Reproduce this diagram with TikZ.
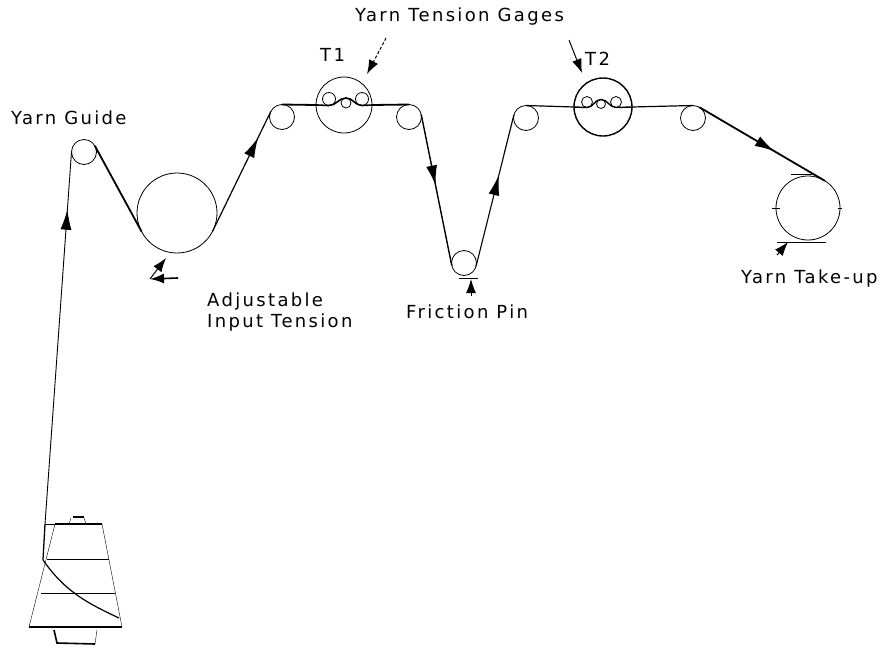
\documentclass[tikz,border=0pt]{standalone}
\usepackage{fontspec}
\setmainfont{DejaVu Sans}[LetterSpace=13]
\usetikzlibrary{arrows.meta,decorations.markings}
\begin{document}
\begin{tikzpicture}[x=1pt,y=-1pt,
        roller/.style={draw,circle,inner sep=0pt,outer sep=0pt,line width=0.8pt,minimum size=#1},
        caption/.style={inner sep=0pt,font=\fontsize{18}{21}\selectfont,align=left},
        yarn/.style={line width=#1},
        yarn/.default=0.9pt,
        yarnarrow/.style={postaction={decorate},decoration={markings,mark=at position #1 with {\arrow{Latex[length=20pt,width=11pt]}}}},
        leader/.style={line width=1pt,-{Latex[length=14pt,width=10pt]}}]
        \useasboundingbox ( 0, 0 ) rectangle ( 891, 648 );

        % ролики
        \node [roller=25pt] (guide) at ( 84, 152 ) {};
        \node [roller=80pt] (input) at ( 177, 213 ) {};
        \node [roller=25pt] (rollerA) at ( 282, 117 ) {};
        \node [roller=25pt] (rollerB) at ( 409, 117 ) {};
        \node [roller=25pt] (pin) at ( 464, 263 ) {};
        \node [roller=25pt] (rollerC) at ( 526, 118 ) {};
        \node [roller=25pt] (rollerD) at ( 693, 118 ) {};
        \node [roller=64pt] (takeup) at ( 808, 208 ) {};

        % датчики T1 и T2
        \node [roller=56pt] (gageA) at ( 344, 105 ) {};
        \node [roller=13pt] (gageAa) at ( 329, 99 ) {};
        \node [roller=10pt] (gageAb) at ( 346, 103 ) {};
        \node [roller=13pt] (gageAc) at ( 362, 99 ) {};
        \node [roller=58pt,line width=1.4pt] (gageB) at ( 603, 107 ) {};
        \node [roller=11pt] (gageBa) at ( 587, 102 ) {};
        \node [roller=9pt] (gageBb) at ( 601, 104 ) {};
        \node [roller=11pt] (gageBc) at ( 616, 102 ) {};

        % катушка
        \coordinate (coneTL) at ( 55, 524 );
        \coordinate (coneTR) at ( 102, 524 );
        \coordinate (coneBL) at ( 29, 627 );
        \coordinate (coneBR) at ( 122, 627 );
        \coordinate (feed) at ( 45, 524 );
        \coordinate (wind) at ( 43, 560 );
        \draw [line width=1.4pt] (coneTL) -- (coneTR);
        \draw [line width=1.4pt] (coneBL) -- (coneBR);
        \draw (coneTL) -- (coneBL);
        \draw (coneTR) -- (coneBR);
        \draw ( 47, 559 ) -- ( 109, 559 );
        \draw ( 41, 593 ) -- ( 115, 593 );
        \draw ( 69, 524 ) -- ( 71, 518 ) ( 84, 518 ) -- ( 86, 524 );
        \draw [line width=1.2pt] ( 73, 517 ) -- ( 84, 517 );
        \draw [line width=1.6pt] ( 54, 630 ) -- ( 57, 643 ) -- ( 95, 644 );
        \draw ( 95, 644 ) -- ( 97, 630 );

        % нить
        \draw [yarn] (feed) -- (coneTL);
        \draw [yarn=1.3pt] (feed) -- (wind);
        \draw [yarn=1.2pt] (wind) to [ out = -55, in = 155 ] ( 119, 618 );
        \draw [yarn,yarnarrow=0.845] (feed) -- (guide.180);
        \draw [yarn=1.8pt] (guide.30) -- (input.208);
        \draw [yarn=1.2pt,yarnarrow=0.78] (input.-27) -- (rollerA.153);
        \draw [yarn=1.8pt] (rollerA.north) -- (gageA.west);
        \draw [yarn=1.6pt] (gageA.west) to [ out = 0, in = 180 ] (gageAa.south) to [ out = 0, in = 180 ] (gageAb.north) to [ out = 0, in = 180 ] (gageAc.south) -- (gageA.east);
        \draw [yarn=1.8pt] (gageA.east) -- (rollerB.north);
        \draw [yarn=1.4pt,yarnarrow=0.47] (rollerB.12) -- (pin.192);
        \draw [yarn=1.1pt,yarnarrow=0.6] (pin.-15) -- (rollerC.165);
        \draw [yarn=1.2pt] (rollerC.north) -- (gageB.west);
        \draw [yarn=1.4pt] (gageB.west) -- (gageBa.south) to [ out = 0, in = 180 ] (gageBb.north) to [ out = 0, in = 180 ] (gageBc.south) -- (gageB.east);
        \draw [yarn=1.2pt] (gageB.east) -- (rollerD.north);
        \draw [yarn=1.8pt,yarnarrow=0.6] (rollerD.60) -- (takeup.58);

        % подписи
        \node [caption,anchor=west] (guideLabel) at ( 11, 118 ) {Yarn Guide};
        \node [caption,anchor=west] (inputLabel) at ( 207, 312 ) {Adjustable\\Input Tension};
        \node [caption,anchor=west] (gagesLabel) at ( 355, 17 ) {Yarn Tension Gages};
        \node [caption,anchor=west] (gageALabel) at ( 320, 55 ) {T1};
        \node [caption,anchor=west] (gageBLabel) at ( 585, 59 ) {T2};
        \node [caption,anchor=west] (pinLabel) at ( 406, 312 ) {Friction Pin};
        \node [caption,anchor=west] (takeupLabel) at ( 741, 279 ) {Yarn Take-up};

        % стрелки к подписям
        \coordinate (gagesA) at ( 386, 38 );
        \coordinate (gagesAend) at ( 367, 74 );
        \coordinate (gagesB) at ( 569, 40 );
        \coordinate (gagesBend) at ( 582, 73 );
        \draw [leader,densely dashed] (gagesA) -- (gagesAend);
        \draw [leader] (gagesB) -- (gagesBend);
        \coordinate (inputA) at ( 178, 278 );
        \coordinate (inputB) at ( 150, 279 );
        \coordinate (inputC) at ( 166, 258 );
        \draw [leader,line width=1.6pt] (inputA) -- (inputB);
        \draw [leader] (inputB) -- (inputC);
        \coordinate (pinA) at ( 471, 296 );
        \coordinate (pinB) at ( 471, 279 );
        \draw [leader] (pinA) -- (pinB);
        \draw ( 459, 278 ) -- ( 478, 278 );
        \coordinate (takeupA) at ( 777, 255 );
        \coordinate (takeupB) at ( 788, 242 );
        \draw [leader] (takeupA) -- (takeupB);
        \draw ( 777, 242 ) -- ( 826, 242 );
        \draw ( 791, 174 ) -- ( 812, 174 );
        \draw ( 772, 208 ) -- ( 780, 208 );
        \draw ( 838, 208 ) -- ( 842, 208 );
    \end{tikzpicture}
\end{document}
